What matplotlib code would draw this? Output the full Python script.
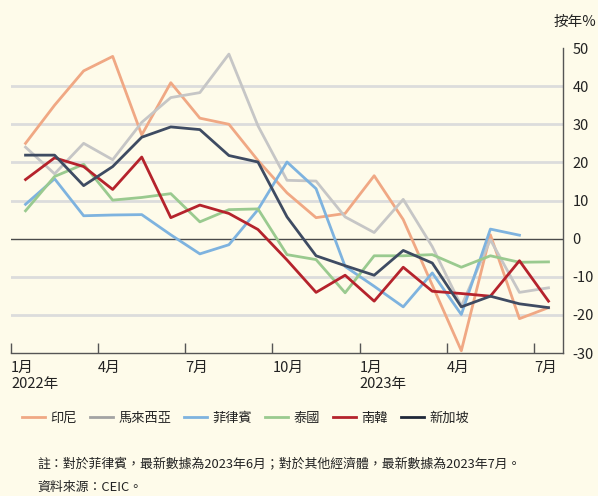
import matplotlib.pyplot as plt
import numpy as np

plt.rcParams['font.family'] = ['Noto Sans CJK TC', 'DejaVu Sans']

# monthly index: 0 = Jan 2022 ... 18 = Jul 2023
months = np.arange(19)

indonesia = [25, 35, 44, 47.8, 27.2, 40.9, 31.6, 30, 20.5, 12, 5.5, 6.6, 16.5, 5, -12.2, -29.4, 1, -21, -18.1]
malaysia = [24, 17, 25, 20.7, 30.5, 37, 38.3, 48.4, 29.6, 15.3, 15.1, 5.7, 1.6, 10.3, -2.1, -17.7, -0.3, -14.1, -12.9]
philippines = [9, 15.7, 6, 6.2, 6.3, 1, -4, -1.6, 7.6, 20.1, 13.1, -7.3, -12.5, -17.9, -9, -19.9, 2.5, 0.9, np.nan]
thailand = [7.3, 16.3, 19.5, 10.1, 10.8, 11.8, 4.4, 7.6, 7.8, -4.2, -5.5, -14.2, -4.5, -4.5, -4.2, -7.5, -4.5, -6.2, -6.1]
korea = [15.5, 21.2, 18.9, 12.9, 21.4, 5.5, 8.8, 6.6, 2.4, -5.6, -14.1, -9.6, -16.4, -7.5, -13.8, -14.4, -15.1, -5.8, -16.4]
singapore = [21.9, 21.9, 13.9, 18.9, 26.6, 29.3, 28.6, 21.8, 20.1, 5.7, -4.5, -7.1, -9.6, -3.1, -6.4, -17.9, -15.1, -17.1, -18.1]

names = ['印尼', '馬來西亞', '菲律賓', '泰國', '南韓', '新加坡']
colors = ['#F0A884', '#C6C6C6', '#7EB3DF', '#9ACA8F', '#B5232C', '#3E4B62']
legend_colors = ['#F0A884', '#A3A3A3', '#7EB3DF', '#9ACA8F', '#B5232C', '#1F2738']
series = [indonesia, malaysia, philippines, thailand, korea, singapore]

tick_pos = [-0.5, 2.5, 5.5, 8.5, 11.5, 14.5, 17.5]
tick_labels = ['1月\n2022年', '4月', '7月', '10月', '1月\n2023年', '4月', '7月']
yticks = [50, 40, 30, 20, 10, 0, -10, -20, -30]

bg = '#FEFBEA'
fig = plt.figure(figsize=(5.98, 4.96), dpi=100, facecolor=bg)
ax = fig.add_axes([0.0184, 0.2883, 0.9231, 0.6149], facecolor=bg)

for y in yticks:
    if y == 0:
        ax.axhline(0, color='#4a4a4a', lw=1.0, zorder=2)
    elif y > -30 and y < 50:
        ax.axhline(y, color='#DCDCDC', lw=2.0, zorder=1)

lines = []
for vals, c, n in zip(series, colors, names):
    ln, = ax.plot(months, vals, color=c, lw=2.0, label=n, zorder=3)
    lines.append(ln)

ax.set_xlim(-0.5, 18.5)
ax.set_ylim(-30, 50)

for s in ['top', 'left']:
    ax.spines[s].set_visible(False)
for s in ['bottom', 'right']:
    ax.spines[s].set_color('#555555')
    ax.spines[s].set_linewidth(1.0)

ax.yaxis.tick_right()
ax.set_yticks(yticks)
ax.set_yticklabels([str(v) for v in yticks])
ax.tick_params(axis='y', length=0, pad=7, labelsize=10.5, colors='#222222')

ax.set_xticks(tick_pos)
ax.set_xticklabels(tick_labels, ha='left', va='top', linespacing=1.15)
ax.tick_params(axis='x', direction='in', length=7, width=1.0, color='#555555',
               labelsize=10.5, pad=6, labelcolor='#222222')

fig.text(0.997, 0.955, '按年%', ha='right', va='center', fontsize=10.5, color='#222222')

leg = fig.legend(handles=lines, loc='center left', bbox_to_anchor=(0.017, 0.157), ncol=6,
                 frameon=False, fontsize=9.5, handlelength=1.75, handletextpad=0.4,
                 columnspacing=0.98)
for t in leg.get_texts():
    t.set_color('#222222')
for h, c in zip(leg.legend_handles, legend_colors):
    h.set_color(c)

fig.text(0.062, 0.062, '註：對於菲律賓，最新數據為2023年6月；對於其他經濟體，最新數據為2023年7月。',
         fontsize=9.3, color='#222222', va='center')
fig.text(0.062, 0.018, '資料來源：CEIC。', fontsize=9.3, color='#222222', va='center')

fig.savefig('out.png', dpi=100, facecolor=bg)
